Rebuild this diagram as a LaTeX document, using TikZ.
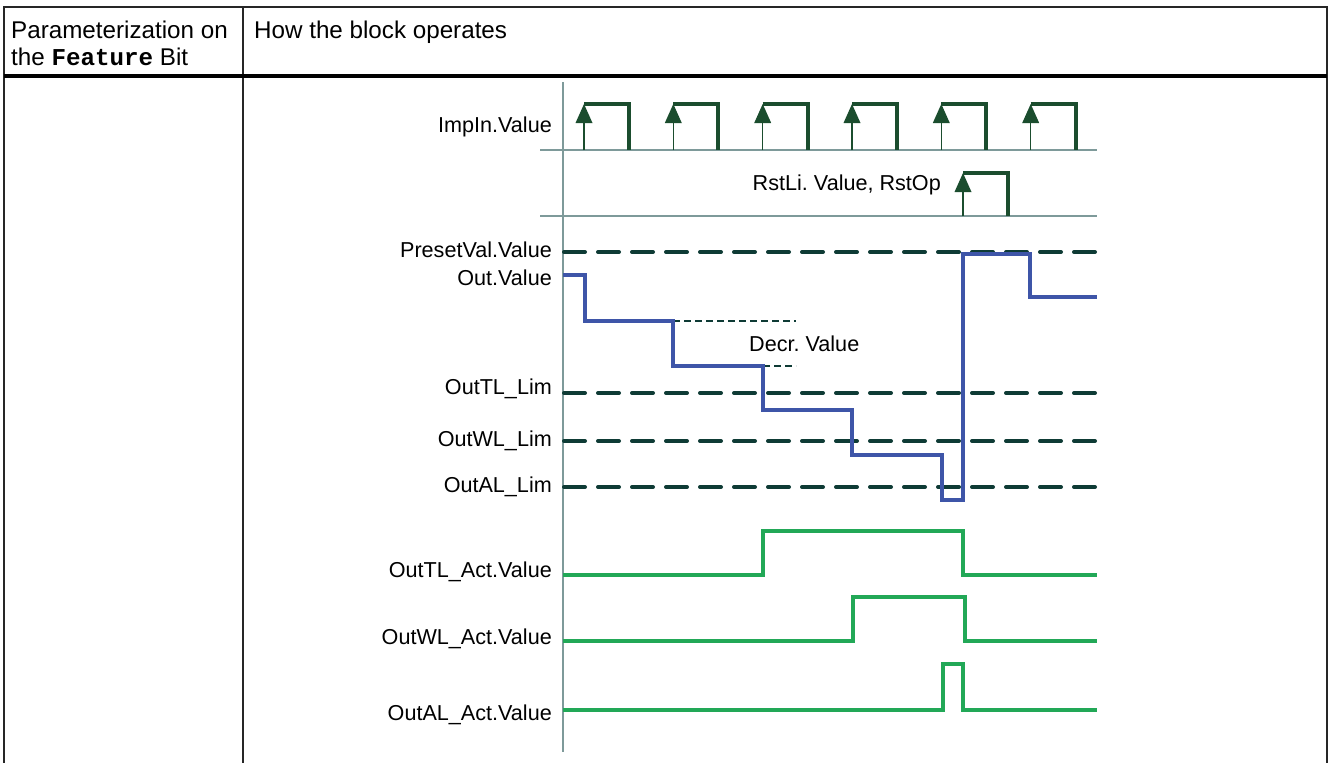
\documentclass[tikz,border=0pt]{standalone}
\usepackage{fontspec}
\setmainfont{Liberation Sans}
\setmonofont{Liberation Mono}
\definecolor{dashcol}{HTML}{0E3B35}
\definecolor{pulsecol}{HTML}{1B4D2E}
\definecolor{bluecol}{HTML}{3E55A8}
\definecolor{greencol}{HTML}{22A857}
\definecolor{axiscol}{HTML}{7E9A9A}
\newcommand\mypulse[3]{%
  \draw[pulsethin] (#1,#2) -- (#1,#3+16);
  \fill[pulsecol] (#1,#3) -- (#1-8.5,#3+19) -- (#1+8.5,#3+19) -- cycle;
  \draw[pulsethick] (#1,#3) -- (#1+45,#3) -- (#1+45,#2);
}
\frenchspacing
\begin{document}
\begin{tikzpicture}[x=1pt,y=-1pt,
  tbl/.style={draw=black!85, line width=1.5pt},
  tblthick/.style={draw=black, line width=4pt},
  axisln/.style={draw=axiscol, line width=1.5pt},
  pulsethin/.style={draw=pulsecol, line width=1.5pt},
  pulsethick/.style={draw=pulsecol, line width=4pt, line join=miter},
  limdash/.style={draw=dashcol, line width=4pt, line cap=round, dash pattern=on 21pt off 13pt},
  thindash/.style={draw=dashcol, line width=1.3pt, dash pattern=on 7pt off 4pt},
  outln/.style={draw=bluecol, line width=3.2pt, line join=miter},
  actln/.style={draw=greencol, line width=4pt, line join=miter},
  lbl/.style={anchor=base east, font=\fontsize{21.6}{25}\selectfont, inner sep=0pt},
  hdr/.style={anchor=base west, font=\fontsize{24.2}{28}\selectfont, inner sep=0pt}
]
\useasboundingbox (0,0) rectangle (1328,763);
% table
\draw[tbl] (4,763) -- (4,7) -- (1327,7) -- (1327,763);
\draw[tbl] (243,7) -- (243,763);
\draw[tblthick] (4,76) -- (1327,76);
\node[hdr] (h1a) at (11,38) {Parameterization on};
\node[hdr] (h1b) at (11,65) {the \texttt{\bfseries Feature} Bit};
\node[hdr] (h2) at (254,38) {How the block operates};
% axes
\draw[axisln] (563,82) -- (563,752);
\draw[axisln] (540,150) -- (1097,150);
\draw[axisln] (540,216) -- (1097,216);
% pulses
\foreach \px in {584,673.3,762.7,852,941.3,1030.7} {\mypulse{\px}{150}{104}}
\mypulse{963}{216}{173}
% limit lines
\draw[limdash] (564,252) -- (1097,252);
\draw[limdash] (564,393) -- (1097,393);
\draw[limdash] (564,441) -- (1097,441);
\draw[limdash] (564,487) -- (1097,487);
% decrement helpers
\draw[thindash] (673,321) -- (796,321);
\draw[thindash] (763,366) -- (796,366);
% Out.Value
\draw[outln] (563,275) -- (585,275) -- (585,321) -- (673,321) -- (673,366) -- (763,366)
  -- (763,410) -- (852,410) -- (852,455) -- (942,455) -- (942,500) -- (963,500)
  -- (963,254) -- (1030,254) -- (1030,297) -- (1097,297);
% act signals
\draw[actln] (563,575) -- (763,575) -- (763,531) -- (963,531) -- (963,575) -- (1097,575);
\draw[actln] (563,641) -- (853,641) -- (853,597) -- (965,597) -- (965,641) -- (1097,641);
\draw[actln] (563,710) -- (943,710) -- (943,664) -- (963,664) -- (963,710) -- (1097,710);
% labels
\node[lbl] (limp) at (552,132.5) {ImpIn.Value};
\node[lbl] (lrst) at (941,190.5) {RstLi.\ Value, RstOp};
\node[lbl] (lpre) at (552,257.5) {PresetVal.Value};
\node[lbl] (lout) at (552,285.5) {Out.Value};
\node[lbl, anchor=base west] (ldec) at (749,351.5) {Decr.\ Value};
\node[lbl] (ltl) at (552,394.5) {OutTL\_Lim};
\node[lbl] (lwl) at (552,446.5) {OutWL\_Lim};
\node[lbl] (lal) at (552,492.5) {OutAL\_Lim};
\node[lbl] (ltla) at (552,577.5) {OutTL\_Act.Value};
\node[lbl] (lwla) at (552,644.5) {OutWL\_Act.Value};
\node[lbl] (lala) at (552,720.5) {OutAL\_Act.Value};
\end{tikzpicture}
\end{document}
